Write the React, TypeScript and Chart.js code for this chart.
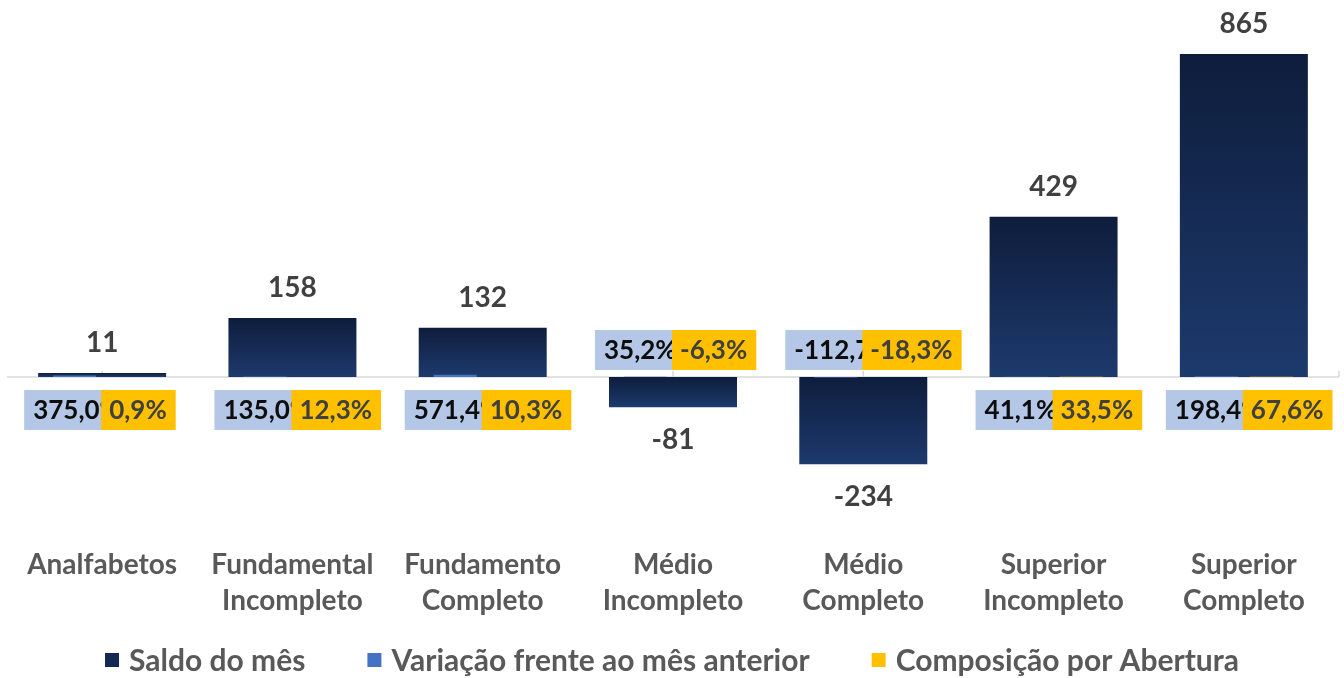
import React, { useEffect, useRef } from "react";
import { Chart, registerables } from "chart.js";
Chart.register(...registerables);

const categories: string[][] = [
  ["Analfabetos"],
  ["Fundamental", "Incompleto"],
  ["Fundamento", "Completo"],
  ["Médio", "Incompleto"],
  ["Médio", "Completo"],
  ["Superior", "Incompleto"],
  ["Superior", "Completo"],
];
const saldo = [11, 158, 132, -81, -234, 429, 865];
const variacao = [375.0, 135.0, 571.4, 35.2, -112.7, 41.1, 198.4];
const composicao = [0.9, 12.3, 10.3, -6.3, -18.3, 33.5, 67.6];
const seriesNames = ["Saldo do mês", "Variação frente ao mês anterior", "Composição por Abertura"];
const seriesColors = ["#132850", "#4472c4", "#ffc000"];

const FONT = "Lato";
const fmtPct = (v: number) => v.toFixed(1).replace(".", ",") + "%";

const saldoColor = (ctx: any) => {
  if (ctx.type !== "data") return seriesColors[0];
  const chart = ctx.chart;
  const y = chart.scales?.y;
  if (!y || !chart.chartArea) return seriesColors[0];
  const v = saldo[ctx.dataIndex];
  const top = y.getPixelForValue(Math.max(v, 0));
  const bot = y.getPixelForValue(Math.min(v, 0));
  const g = chart.ctx.createLinearGradient(0, top, 0, Math.max(bot, top + 1));
  g.addColorStop(0, "#0e1d3c");
  g.addColorStop(1, "#1d3a6d");
  return g;
};

const axisPlugin = {
  id: "zeroAxis",
  beforeDatasetsDraw(chart: any) {
    const { ctx, chartArea } = chart;
    const x = chart.scales.x;
    const y = chart.scales.y;
    const zero = y.getPixelForValue(0);
    ctx.save();
    ctx.strokeStyle = "#d9d9d9";
    ctx.lineWidth = 1.5;
    ctx.beginPath();
    ctx.moveTo(chartArea.left, zero);
    ctx.lineTo(chartArea.right, zero);
    categories.forEach((_, i) => {
      const px = x.getPixelForValue(i);
      ctx.moveTo(px, zero);
      ctx.lineTo(px, zero - 6);
    });
    ctx.moveTo(chartArea.right, zero);
    ctx.lineTo(chartArea.right, zero - 6);
    ctx.stroke();
    ctx.restore();
  },
};

const labelPlugin = {
  id: "boxLabels",
  afterDatasetsDraw(chart: any) {
    const { ctx } = chart;
    const x = chart.scales.x;
    const y = chart.scales.y;
    const zero = y.getPixelForValue(0);
    const meta0 = chart.getDatasetMeta(0);
    ctx.save();
    ctx.textBaseline = "middle";
    ctx.font = `bold 28px ${FONT}`;
    ctx.textAlign = "center";
    ctx.fillStyle = "#404040";
    saldo.forEach((v, i) => {
      const bar = meta0.data[i];
      const ty = v >= 0 ? bar.y - 30 : bar.y + 33;
      ctx.fillText(String(v), bar.x, ty);
    });
    ctx.font = `bold 26px ${FONT}`;
    ctx.textAlign = "left";
    categories.forEach((_, i) => {
      const c = x.getPixelForValue(i);
      const h = 40;
      const top = saldo[i] >= 0 ? zero + 13 : zero - 7 - h;
      const vt = fmtPct(variacao[i]);
      const vw = ctx.measureText(vt).width;
      const vl = c - 78;
      ctx.fillStyle = "#b4c7e7";
      ctx.fillRect(vl, top, vw + 18, h);
      ctx.fillStyle = "#0d0d0d";
      ctx.fillText(vt, vl + 9, top + h / 2 + 1);
      const ct = fmtPct(composicao[i]);
      const cw = ctx.measureText(ct).width;
      const cl = c - 1;
      ctx.fillStyle = "#ffc000";
      ctx.fillRect(cl, top, cw + 17, h);
      ctx.fillStyle = "#404040";
      ctx.fillText(ct, cl + 8, top + h / 2 + 1);
    });
    ctx.restore();
  },
};

const legendPlugin = {
  id: "bottomLegend",
  afterDraw(chart: any) {
    const { ctx, width } = chart;
    const box = 14;
    const gapText = 10;
    const gapItem = 62;
    const cy = 660;
    ctx.save();
    ctx.font = `bold 30px ${FONT}`;
    ctx.textBaseline = "middle";
    ctx.textAlign = "left";
    const widths = seriesNames.map((n) => box + gapText + ctx.measureText(n).width);
    const total = widths.reduce((a, b) => a + b, 0) + gapItem * (seriesNames.length - 1);
    let cx = (width - total) / 2;
    seriesNames.forEach((n, i) => {
      ctx.fillStyle = seriesColors[i];
      ctx.fillRect(cx, cy - box / 2, box, box);
      ctx.fillStyle = "#595959";
      ctx.fillText(n, cx + box + gapText, cy + 1);
      cx += widths[i] + gapItem;
    });
    ctx.restore();
  },
};

export default function App() {
  const ref = useRef<HTMLCanvasElement | null>(null);
  useEffect(() => {
    if (!ref.current) return;
    const chart = new Chart(ref.current, {
      type: "bar",
      data: {
        labels: categories,
        datasets: [
          {
            label: seriesNames[0],
            data: saldo,
            backgroundColor: saldoColor,
            borderWidth: 0,
            grouped: false,
            categoryPercentage: 1,
            barPercentage: 0.6726,
            order: 1,
          } as any,
          {
            label: seriesNames[1],
            data: variacao.map((v) => v / 100),
            backgroundColor: seriesColors[1],
            borderWidth: 0,
            categoryPercentage: 0.58,
            barPercentage: 0.78,
            order: 0,
          },
          {
            label: seriesNames[2],
            data: composicao.map((v) => v / 100),
            backgroundColor: seriesColors[2],
            borderWidth: 0,
            categoryPercentage: 0.58,
            barPercentage: 0.78,
            order: 0,
          },
        ],
      },
      options: {
        animation: false,
        responsive: true,
        maintainAspectRatio: false,
        layout: { padding: { top: 41, left: 7, right: 5, bottom: 0 } },
        scales: {
          x: {
            grid: { display: false, drawTicks: false },
            border: { display: false },
            ticks: {
              padding: 58,
              color: "#595959",
              font: { family: FONT, size: 28, weight: "bold", lineHeight: 1.29 },
              maxRotation: 0,
              autoSkip: false,
            },
            afterFit: (s: any) => {
              s.height = 189;
              s.paddingLeft = 0;
              s.paddingRight = 0;
            },
          },
          y: {
            display: false,
            min: -300,
            max: 900,
          },
        },
        plugins: {
          legend: { display: false },
          tooltip: { enabled: false },
        },
      },
      plugins: [axisPlugin, labelPlugin, legendPlugin],
    });
    return () => chart.destroy();
  }, []);
  return (
    <div style={{ position: "fixed", left: 0, top: 0, width: 1344, height: 678, background: "#fff" }}>
      <canvas ref={ref} />
    </div>
  );
}
